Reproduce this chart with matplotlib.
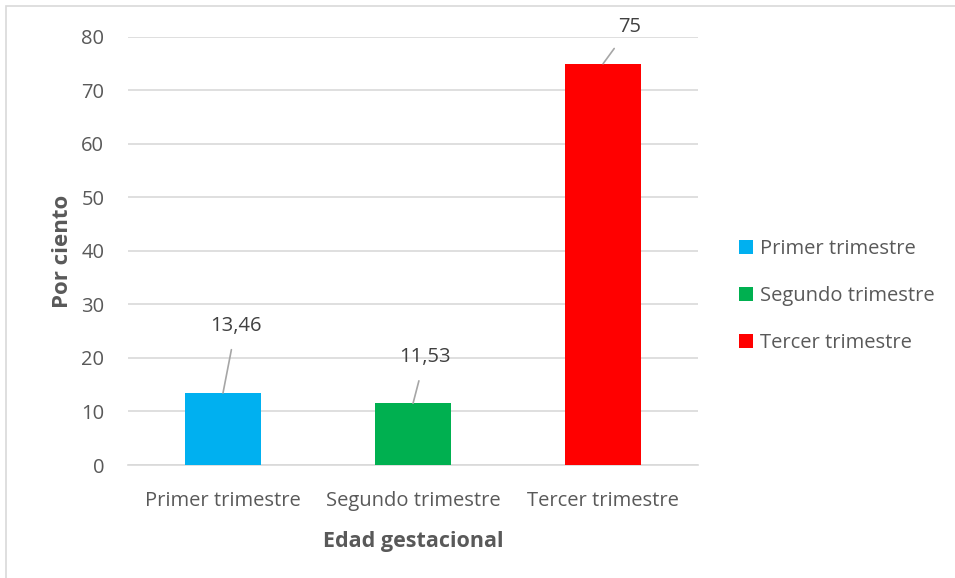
import matplotlib.pyplot as plt
from matplotlib.patches import Rectangle

categorias = ["Primer trimestre", "Segundo trimestre", "Tercer trimestre"]
porcentajes = [13.46, 11.53, 75]
etiquetas = ["13,46", "11,53", "75"]
colores = ["#00b0f0", "#00b050", "#ff0000"]
# desplazamiento de cada etiqueta respecto a la parte superior de su barra (px)
desplaz = [(13, 67), (12, 46), (27, 37)]

plt.rcParams["font.family"] = ["Open Sans", "DejaVu Sans"]
gris = "#595959"
tam = 14.5

fig = plt.figure(figsize=(9.55, 5.78), dpi=100)
ax = fig.add_axes([0.134, 0.1955, 0.597, 0.7405])

# marco exterior del gráfico
fig.patches.append(Rectangle((6 / 955, -0.1), 1.2, 1.1 - 6 / 578, transform=fig.transFigure,
                             fill=False, edgecolor="#d9d9d9", linewidth=1.2, zorder=0))

x = range(len(categorias))
for i in x:
    ax.bar(i, porcentajes[i], width=0.4, color=colores[i], label=categorias[i], zorder=3)
    ax.annotate(etiquetas[i], xy=(i, porcentajes[i]), xytext=desplaz[i],
                textcoords="offset pixels", ha="center", va="center",
                fontsize=tam, color="#404040",
                arrowprops=dict(arrowstyle="-", color="#a6a6a6", lw=1.2,
                                shrinkA=8, shrinkB=0))

ax.set_xlim(-0.5, 2.5)
ax.set_ylim(0, 80)
ax.set_yticks(range(0, 81, 10))
ax.set_xticks(list(x))
ax.set_xticklabels(categorias)
ax.tick_params(axis="x", length=0, labelsize=tam, labelcolor=gris, pad=19)
ax.tick_params(axis="y", length=0, labelsize=tam, labelcolor=gris, pad=17)
ax.grid(axis="y", color="#d9d9d9", linewidth=1.2, zorder=0)
for s in ["top", "right", "left"]:
    ax.spines[s].set_visible(False)
ax.spines["bottom"].set_color("#d9d9d9")
ax.spines["bottom"].set_linewidth(1.2)

ax.set_ylabel("Por ciento", fontsize=16, fontweight="bold", color=gris, labelpad=6)
ax.set_xlabel("Edad gestacional", fontsize=15.5, fontweight="bold", color=gris, labelpad=14)

ax.legend(loc="center left", bbox_to_anchor=(1.072, 0.395), frameon=False, fontsize=tam,
          labelcolor=gris, handlelength=0.7, handleheight=0.7, handletextpad=0.35,
          labelspacing=1.35, borderaxespad=0, borderpad=0)

fig.savefig("out.png", dpi=100)
